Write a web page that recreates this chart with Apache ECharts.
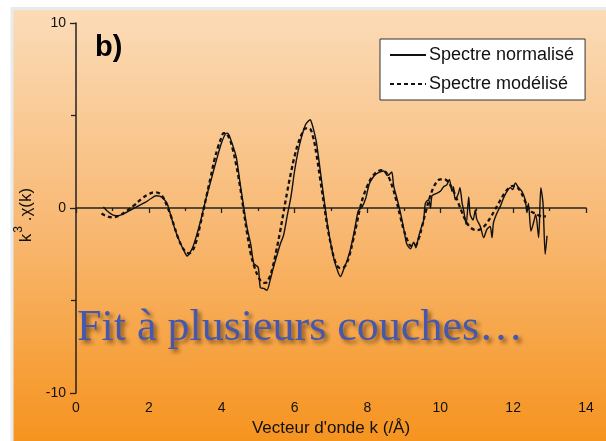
<!DOCTYPE html>
<html>
<head>
<meta charset="utf-8">
<script src="https://cdn.jsdelivr.net/npm/echarts@6/dist/echarts.min.js"></script>
<style>
  html, body { margin: 0; padding: 0; background: #fff; }
  #chart { width: 606px; height: 441px; }
</style>
</head>
<body>
<div id="chart"></div>
<script>
// EXAFS oscillations k^3·chi(k): measured (normalised) spectrum and multi-shell fit
const kNorm = [
  0.75, 0.85, 0.95, 1.05, 1.15, 1.3, 1.5, 1.7, 1.9, 2.05, 2.2, 2.3, 2.4, 2.5, 2.6, 2.7, 2.8, 2.9, 3.0, 3.05,
  3.1, 3.2, 3.3, 3.4, 3.5, 3.6, 3.7, 3.8, 3.9, 4.0, 4.1, 4.15, 4.2, 4.3, 4.4, 4.5, 4.6, 4.7, 4.8, 4.88,
  5.0, 5.06, 5.15, 5.24, 5.33, 5.42, 5.51, 5.6, 5.7, 5.8, 5.9, 6.0, 6.1, 6.2, 6.3, 6.38, 6.43, 6.47, 6.52, 6.6,
  6.7, 6.8, 6.9, 7.0, 7.1, 7.2, 7.26, 7.35, 7.45, 7.55, 7.65, 7.75, 7.85, 7.95, 8.05, 8.15, 8.25, 8.35, 8.45, 8.55,
  8.62, 8.67, 8.72, 8.8, 8.9, 9.0, 9.08, 9.18, 9.27, 9.33, 9.4, 9.47, 9.54, 9.59, 9.68, 9.73, 9.77, 9.85, 9.91, 10.0,
  10.09, 10.18, 10.25, 10.32, 10.36, 10.41, 10.5, 10.54, 10.6, 10.64, 10.71, 10.78, 10.82, 10.9, 10.96, 11.0, 11.1, 11.19, 11.28, 11.37,
  11.42, 11.46, 11.55, 11.65, 11.74, 11.83, 11.92, 11.99, 12.06, 12.15, 12.24, 12.33, 12.38, 12.42, 12.49, 12.56, 12.62, 12.7, 12.76, 12.82,
  12.88, 12.93
];
const chiNorm = [
  0.05, -0.15, -0.3, -0.4, -0.42, -0.32, -0.12, 0.1, 0.3, 0.5, 0.66, 0.64, 0.5, 0.25, -0.4, -1.05, -1.6, -2.05, -2.45, -2.6,
  -2.5, -2.15, -1.55, -0.85, -0.05, 0.75, 1.45, 2.2, 2.9, 3.55, 4.0, 4.05, 3.95, 3.4, 2.75, 1.4, 0.1, -1.1, -2.0, -3.0,
  -3.2, -4.3, -4.35, -4.45, -3.9, -3.2, -2.6, -2.0, -1.45, -0.4, 0.6, 2.0, 3.1, 3.9, 4.5, 4.7, 4.77, 4.6, 4.25, 3.55,
  2.1, 0.6, -0.85, -2.0, -2.9, -3.5, -3.7, -3.3, -2.8, -2.1, -1.15, -0.15, 0.05, 0.5, 1.3, 1.65, 1.85, 1.95, 2.0, 1.75,
  1.85, 1.95, 1.2, 0.6, -0.2, -1.15, -1.95, -2.2, -1.85, -2.15, -1.6, -1.1, -0.7, 0.25, 0.45, 0.0, 0.65, 0.75, 0.8, 0.9,
  1.15, 1.25, 1.55, 0.9, 1.15, 0.45, 0.8, 1.1, 0.25, -0.1, -0.9, 0.6, -0.35, -0.65, -0.1, -0.6, -1.0, -1.6, -1.15, -1.0,
  -1.6, -0.8, -0.3, 0.1, 0.55, 0.9, 1.1, 1.0, 1.35, 1.1, 0.9, 0.45, -0.25, 0.25, -1.25, -0.8, -0.35, -1.6, 1.1, 0.25,
  -2.5, -1.5
];

const kModel = [
  0.7, 0.85, 1.0, 1.2, 1.4, 1.6, 1.8, 2.0, 2.15, 2.3, 2.4, 2.5, 2.6, 2.7, 2.8, 2.9, 3.0, 3.1, 3.2, 3.3,
  3.4, 3.5, 3.6, 3.7, 3.8, 3.9, 4.0, 4.05, 4.1, 4.2, 4.3, 4.4, 4.5, 4.6, 4.7, 4.8, 4.9, 5.0, 5.1, 5.2,
  5.3, 5.4, 5.5, 5.6, 5.7, 5.8, 5.9, 6.0, 6.1, 6.2, 6.3, 6.4, 6.5, 6.6, 6.7, 6.8, 6.9, 7.0, 7.1, 7.2,
  7.3, 7.4, 7.5, 7.6, 7.7, 7.8, 7.9, 8.0, 8.1, 8.2, 8.3, 8.4, 8.5, 8.6, 8.7, 8.8, 8.9, 9.0, 9.1, 9.2,
  9.3, 9.4, 9.5, 9.6, 9.7, 9.8, 9.9, 10.0, 10.1, 10.2, 10.3, 10.4, 10.5, 10.6, 10.7, 10.8, 10.9, 11.0, 11.1, 11.2,
  11.3, 11.4, 11.5, 11.6, 11.7, 11.8, 11.9, 12.0, 12.1, 12.2, 12.3, 12.4, 12.5, 12.6, 12.7, 12.8, 12.9
];
const chiModel = [
  -0.3, -0.45, -0.5, -0.4, -0.15, 0.15, 0.5, 0.75, 0.85, 0.78, 0.55, 0.1, -0.4, -1.0, -1.6, -2.05, -2.35, -2.45, -2.3, -1.8,
  -1.0, -0.1, 0.8, 1.7, 2.6, 3.3, 3.85, 4.05, 4.05, 3.8, 3.2, 2.3, 1.2, -0.1, -1.4, -2.5, -3.2, -3.7, -4.0, -4.05,
  -3.8, -3.2, -2.3, -1.3, -0.2, 0.9, 1.9, 2.8, 3.5, 4.0, 4.3, 4.3, 3.9, 2.9, 1.6, 0.3, -1.0, -2.0, -2.8, -3.2,
  -3.25, -3.1, -2.6, -1.8, -0.9, 0.0, 0.7, 1.2, 1.6, 1.85, 2.0, 2.05, 1.95, 1.6, 1.05, 0.35, -0.45, -1.2, -1.75, -2.05,
  -2.05, -1.7, -1.0, -0.2, 0.5, 1.05, 1.4, 1.55, 1.55, 1.45, 1.15, 0.75, 0.25, -0.25, -0.7, -1.0, -1.15, -1.2, -1.15, -1.0,
  -0.75, -0.45, -0.1, 0.25, 0.6, 0.9, 1.1, 1.2, 1.15, 0.9, 0.5, 0.05, -0.2, -0.3, -0.4, -0.45, -0.45
];

const xTicks = { min: 0, max: 14, step: 2 };
const yTicks = { min: -10, max: 10, step: 10 };
const seriesNames = ['Spectre normalisé', 'Spectre modélisé'];

const pairs = (xs, ys) => xs.map((x, i) => [x, ys[i]]);

const sans = "'Liberation Sans', Arial, Helvetica, sans-serif";
const ink = '#111';

const chart = echarts.init(document.getElementById('chart'), null, { renderer: 'canvas' });
chart.setOption({
  animation: false,
  backgroundColor: '#ffffff',
  graphic: [
    {
      type: 'rect', z: -100, silent: true,
      shape: { x: 12, y: 8.5, width: 600, height: 440 },
      style: {
        fill: new echarts.graphic.LinearGradient(0, 0, 0, 1, [
          { offset: 0, color: '#fbdcb9' },
          { offset: 0.5, color: '#f8b872' },
          { offset: 1, color: '#f6921c' }
        ]),
        stroke: '#e7ebeb', lineWidth: 3
      }
    },
    {
      type: 'text', z: 10, left: 95, top: 33,
      style: { text: 'b)', fill: '#000', font: "bold 29px " + sans }
    },
    {
      type: 'text', z: 10, left: 77, top: 306,
      style: {
        text: 'Fit à plusieurs couches…',
        fill: '#4658ad',
        font: "44px 'Liberation Serif', 'Times New Roman', serif",
        textShadowColor: 'rgba(40,20,0,0.6)', textShadowBlur: 4,
        textShadowOffsetX: 3, textShadowOffsetY: 3
      }
    }
  ],
  legend: {
    orient: 'vertical',
    left: 380, top: 39,
    padding: [7, 11, 7, 9],
    itemWidth: 36, itemHeight: 14, itemGap: 11,
    backgroundColor: '#ffffff',
    borderColor: '#333', borderWidth: 1,
    itemStyle: { opacity: 0 },
    textStyle: { fontFamily: sans, fontSize: 18, color: ink, padding: [0, 0, 0, -2] },
    data: seriesNames
  },
  grid: { left: 76, top: 23, right: 20, bottom: 48, outerBoundsMode: 'none' },
  xAxis: {
    type: 'value',
    min: xTicks.min, max: xTicks.max, interval: xTicks.step,
    name: "Vecteur d'onde k (/Å)",
    nameLocation: 'middle', nameGap: 27,
    nameTextStyle: { fontFamily: sans, fontSize: 17, color: ink },
    axisLine: { lineStyle: { color: '#222', width: 1.5 } },
    axisTick: { length: 5, lineStyle: { color: '#222', width: 1.3 } },
    minorTick: { show: true, splitNumber: 2, length: 3, lineStyle: { color: '#222', width: 1.3 } },
    splitLine: { show: false },
    axisLabel: { fontFamily: sans, fontSize: 14, color: ink, margin: 8 }
  },
  yAxis: {
    type: 'value',
    min: yTicks.min, max: yTicks.max, interval: yTicks.step,
    name: '{a|k}{s|3}{a| .χ(k)}',
    nameLocation: 'middle', nameGap: 34, nameRotate: 90,
    nameTextStyle: {
      fontFamily: sans, fontSize: 16, color: ink, padding: [0, 14, 0, 0],
      rich: {
        a: { fontFamily: sans, fontSize: 17, color: ink, lineHeight: 22, verticalAlign: 'bottom' },
        s: { fontFamily: sans, fontSize: 12, color: ink, lineHeight: 22, verticalAlign: 'top', padding: [0, 0, 8, 1] }
      }
    },
    axisLine: { show: true, lineStyle: { color: '#222', width: 1.5 } },
    axisTick: { show: true, length: 6, lineStyle: { color: '#222', width: 1.3 } },
    minorTick: { show: true, splitNumber: 2, length: 5, lineStyle: { color: '#222', width: 1.3 } },
    splitLine: { show: false },
    axisLabel: { fontFamily: sans, fontSize: 14, color: ink, margin: 10 }
  },
  series: [
    {
      name: seriesNames[0], type: 'line', symbol: 'none', smooth: 0.25, z: 3,
      data: pairs(kNorm, chiNorm),
      lineStyle: { color: '#111', width: 1.4 }, itemStyle: { color: '#111' }
    },
    {
      name: seriesNames[1], type: 'line', symbol: 'none', smooth: 0.4, z: 4,
      data: pairs(kModel, chiModel),
      lineStyle: { color: '#111', width: 2.3, type: [4, 3] }, itemStyle: { color: '#111' }
    }
  ]
});
</script>
</body>
</html>
